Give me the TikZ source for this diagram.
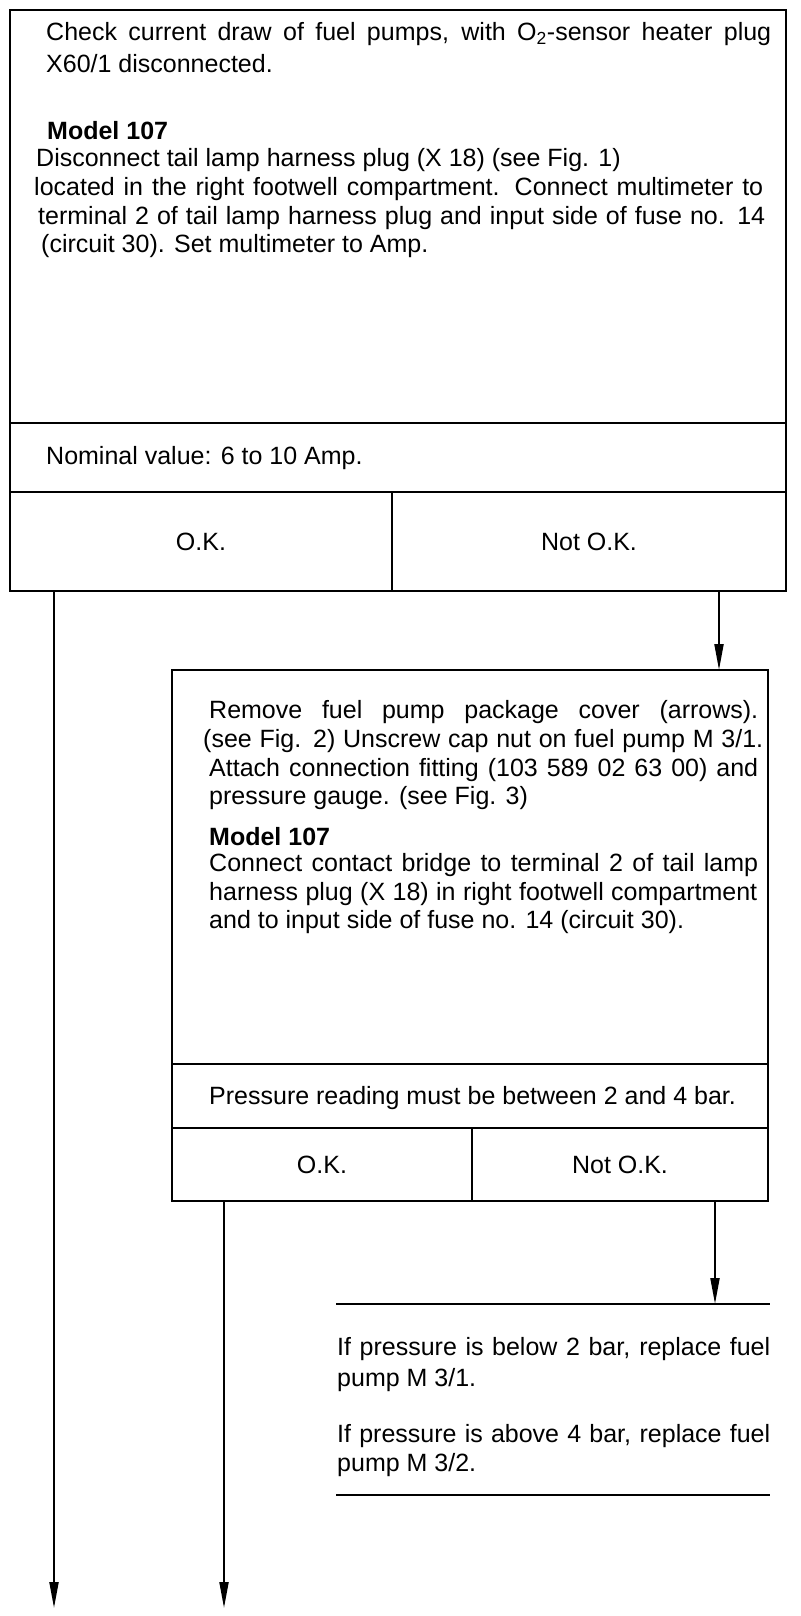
\documentclass[tikz,border=0pt]{standalone}
\usepackage{fontspec}
\setmainfont{Liberation Sans}
\usetikzlibrary{arrows.meta}
\begin{document}
\begin{tikzpicture}[x=1pt,y=-1pt,
  cell/.style={draw, line width=1.5pt, anchor=north west, inner sep=0pt, outer sep=0pt},
  txt/.style={anchor=west, inner sep=0pt, font=\fontsize{25}{30}\selectfont},
  btxt/.style={txt, font=\fontsize{25}{30}\selectfont\bfseries},
  ctr/.style={inner sep=0pt, font=\fontsize{25}{30}\selectfont},
  arr/.style={line width=2pt, -{Triangle[length=26pt,width=9pt]}},
  rulel/.style={line width=1.5pt}]
\useasboundingbox (0,0) rectangle (800,1616);
% first box
\node[cell, minimum width=776pt, minimum height=413pt] (b1) at (10,10) {};
\node[cell, minimum width=776pt, minimum height=69pt] (b1n) at (10,423) {};
\node[cell, minimum width=382pt, minimum height=99pt] (b1ok) at (10,492) {};
\node[cell, minimum width=394pt, minimum height=99pt] (b1nok) at (392,492) {};
\node[txt] (t1) at (46,34) {\makebox[725pt][s]{Check current draw of fuel pumps, with O\textsubscript{2}-sensor heater plug}};
\node[txt] (t2) at (46,64) {X60/1 disconnected.};
\node[btxt] (t3) at (47,131) {Model 107};
\node[txt] (t4) at (36,160) {Disconnect tail lamp harness plug (X 18) (see Fig. 1)};
\node[txt] (t5) at (34,189) {\makebox[729pt][s]{located in the right footwell compartment. Connect multimeter to}};
\node[txt] (t6) at (38,218) {\makebox[727pt][s]{terminal 2 of tail lamp harness plug and input side of fuse no. 14}};
\node[txt] (t7) at (41,246) {(circuit 30). Set multimeter to Amp.};
\node[txt] (t8) at (46,458) {Nominal value: 6 to 10 Amp.};
\node[ctr] (t9) at (b1ok.center) {O.K.};
\node[ctr] (t10) at (b1nok.center) {Not O.K.};
% second box
\node[cell, minimum width=596pt, minimum height=394pt] (b2) at (172,670) {};
\node[cell, minimum width=596pt, minimum height=64pt] (b2p) at (172,1064) {};
\node[cell, minimum width=300pt, minimum height=73pt] (b2ok) at (172,1128) {};
\node[cell, minimum width=296pt, minimum height=73pt] (b2nok) at (472,1128) {};
\node[txt] (u1) at (209,712) {\makebox[549pt][s]{Remove fuel pump package cover (arrows).}};
\node[txt] (u2) at (203,741) {\makebox[560pt][s]{(see Fig. 2) Unscrew cap nut on fuel pump M 3/1.}};
\node[txt] (u3) at (209,770) {\makebox[549pt][s]{Attach connection fitting (103 589 02 63 00) and}};
\node[txt] (u4) at (209,798) {pressure gauge. (see Fig. 3)};
\node[btxt] (u5) at (209,837) {Model 107};
\node[txt] (u6) at (209,865) {\makebox[549pt][s]{Connect contact bridge to terminal 2 of tail lamp}};
\node[txt] (u7) at (209,894) {\makebox[548pt][s]{harness plug (X 18) in right footwell compartment}};
\node[txt] (u8) at (209,922) {and to input side of fuse no. 14 (circuit 30).};
\node[txt] (u9) at (209,1098) {Pressure reading must be between 2 and 4 bar.};
\node[ctr] (u10) at (b2ok.center) {O.K.};
\node[ctr] (u11) at (b2nok.center) {Not O.K.};
% result
\coordinate (r1a) at (336,1304);
\coordinate (r1b) at (770,1304);
\coordinate (r2a) at (336,1495);
\coordinate (r2b) at (770,1495);
\draw[rulel] (r1a) -- (r1b);
\draw[rulel] (r2a) -- (r2b);
\node[txt] (v1) at (337,1349) {\makebox[433pt][s]{If pressure is below 2 bar, replace fuel}};
\node[txt] (v2) at (337,1380) {pump M 3/1.};
\node[txt] (v3) at (337,1436) {\makebox[433pt][s]{If pressure is above 4 bar, replace fuel}};
\node[txt] (v4) at (337,1465) {pump M 3/2.};
% arrows
\coordinate (e1) at (54,1608);
\coordinate (e2) at (224,1608);
\coordinate (x1) at (719,0);
\coordinate (x2) at (715,0);
\draw[arr] (b1ok.south -| e1) -- (e1);
\draw[arr] (b1nok.south -| x1) -- (b2.north -| x1);
\draw[arr] (b2ok.south -| e2) -- (e2);
\draw[arr] (b2nok.south -| x2) -- (r1a -| x2);
\end{tikzpicture}
\end{document}
